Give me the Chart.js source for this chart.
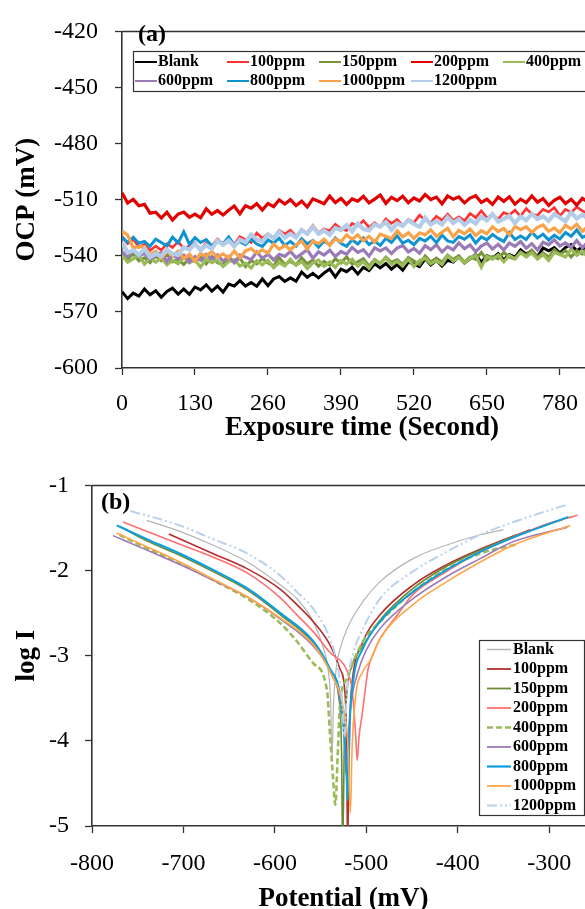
<!DOCTYPE html>
<html><head><meta charset="utf-8">
<script src="https://cdn.jsdelivr.net/npm/chart.js@4.4.1/dist/chart.umd.min.js"></script>
<style>
html,body{margin:0;padding:0;background:#fff;overflow:hidden;}
#wrap{position:relative;width:585px;height:909px;overflow:hidden;background:#fff;}
canvas{position:absolute;left:0;}
</style></head><body>
<div id="wrap">
<canvas id="chartA" width="620" height="455" style="top:0"></canvas>
<canvas id="chartB" width="620" height="480" style="top:455px"></canvas>
</div>
<script>
// ---------- DATA ----------
const seriesNames = ['Blank','100ppm','150ppm','200ppm','400ppm','600ppm','800ppm','1000ppm','1200ppm'];
const ocpTicksX = [0,130,260,390,520,650,780];
const ocpTicksY = [-600,-570,-540,-510,-480,-450,-420];
const tafelTicksX = [-800,-700,-600,-500,-400,-300];
const tafelTicksY = [-5,-4,-3,-2,-1];

const timeS = [0,10,20,30,40,50,60,70,80,90,100,110,120,130,140,150,160,170,180,190,200,210,220,230,240,250,260,270,280,290,300,310,320,330,340,350,360,370,380,390,400,410,420,430,440,450,460,470,480,490,500,510,520,530,540,550,560,570,580,590,600,610,620,630,640,650,660,670,680,690,700,710,720,730,740,750,760,770,780,790,800,810,820,830,840,850];

const ocpBlank = [-559.2,-562.9,-560.0,-561.6,-557.8,-560.8,-558.7,-562.2,-559.1,-557.3,
-560.5,-557.8,-560.6,-556.7,-558.2,-555.5,-558.9,-556.2,-559.4,-555.1,
-556.2,-553.3,-556.2,-554.3,-556.3,-552.4,-556.0,-552.4,-551.1,-553.7,
-551.8,-553.6,-548.7,-551.5,-549.4,-551.8,-549.2,-547.1,-551.3,-547.1,
-548.5,-546.2,-549.7,-546.2,-547.9,-544.3,-546.5,-544.1,-547.2,-544.7,
-547.7,-543.4,-544.5,-545.8,-541.6,-544.9,-542.5,-545.5,-542.4,-543.4,
-540.6,-543.9,-541.6,-539.2,-543.5,-539.9,-541.5,-538.8,-542.1,-539.3,
-540.7,-536.8,-539.1,-537.3,-540.5,-535.8,-537.3,-535.6,-538.5,-535.5,
-534.0,-537.3,-535.4,-537.8,-533.7,-535.7];
const ocp100 = [-529.5,-533.5,-531.2,-535.4,-533.9,-537.2,-534.8,-536.9,-533.5,-535.6,
-532.3,-536.2,-534.7,-533.0,-536.8,-533.1,-534.8,-531.1,-533.5,-531.8,
-533.9,-529.8,-531.3,-532.9,-527.8,-530.6,-528.3,-530.3,-526.3,-528.4,
-526.3,-529.5,-526.5,-527.6,-523.7,-527.7,-525.6,-526.7,-523.2,-525.6,
-526.5,-522.7,-524.1,-521.2,-524.8,-522.3,-524.5,-520.3,-522.7,-520.6,
-523.9,-520.5,-522.2,-518.3,-521.0,-522.4,-518.8,-521.0,-517.7,-521.1,
-519.1,-521.3,-517.4,-519.6,-515.9,-519.7,-518.1,-520.4,-516.9,-518.2,
-515.6,-518.9,-514.7,-517.7,-518.4,-515.2,-516.6,-514.2,-518.6,-515.2,
-516.8,-513.9,-516.0,-517.5,-512.8,-516.5];
const ocp150 = [-539.2,-541.8,-538.9,-542.7,-541.1,-543.7,-540.1,-542.6,-539.2,-543.3,
-542.0,-544.6,-541.4,-543.0,-540.7,-544.3,-540.4,-543.7,-544.7,-541.8,
-543.4,-541.2,-545.8,-542.6,-544.3,-541.5,-543.8,-545.5,-540.9,-544.7,
-542.9,-544.9,-541.1,-544.3,-542.2,-545.5,-543.0,-545.1,-541.6,-543.8,
-540.5,-544.5,-543.2,-541.6,-545.6,-542.0,-544.1,-540.7,-543.5,-542.1,
-544.6,-540.9,-542.8,-544.8,-540.1,-543.3,-541.2,-543.4,-539.6,-541.9,
-540.0,-543.4,-540.6,-541.9,-538.2,-542.4,-540.4,-541.6,-538.2,-540.7,
-541.7,-538.1,-539.7,-537.0,-540.8,-538.5,-540.8,-536.7,-539.2,-537.2,
-540.6,-537.3,-539.1,-535.3,-538.1,-539.6];
const ocp200 = [-506.3,-511.8,-509.8,-513.2,-512.5,-517.2,-516.7,-519.8,-516.7,-520.9,
-517.7,-516.6,-519.4,-517.7,-519.7,-514.9,-517.8,-515.8,-518.2,-515.6,
-513.4,-517.5,-513.2,-514.5,-512.1,-515.5,-512.0,-513.7,-510.1,-512.3,
-510.0,-513.2,-510.8,-513.9,-509.6,-510.8,-512.2,-508.1,-511.5,-509.3,
-512.5,-509.6,-510.8,-508.2,-511.7,-509.7,-507.5,-512.0,-508.7,-510.5,
-508.1,-511.6,-509.1,-510.7,-507.2,-509.9,-508.6,-512.2,-508.0,-509.8,
-508.5,-511.7,-509.1,-507.9,-511.5,-509.8,-512.5,-508.6,-510.9,-508.4,
-512.4,-509.7,-511.6,-508.0,-511.3,-509.4,-513.1,-510.3,-508.7,-512.1,
-509.8,-512.9,-509.3,-511.2,-508.8,-512.5];
const ocp400 = [-539.6,-543.4,-541.6,-539.7,-544.5,-541.4,-543.4,-541.1,-544.8,-542.4,
-544.2,-540.8,-543.6,-542.3,-546.0,-541.8,-543.7,-542.4,-545.7,-543.1,
-542.0,-545.5,-543.9,-546.5,-542.6,-544.8,-542.4,-546.3,-543.6,-545.4,
-541.8,-545.0,-543.1,-546.8,-543.8,-542.2,-545.6,-543.2,-546.2,-542.6,
-544.4,-541.9,-545.6,-543.1,-546.6,-542.5,-543.9,-541.3,-544.6,-543.0,
-545.4,-541.8,-545.7,-542.4,-541.4,-544.3,-542.6,-544.6,-539.9,-542.9,
-541.0,-543.7,-541.4,-539.6,-546.1,-540.2,-541.8,-539.6,-543.2,-539.8,
-541.6,-538.2,-540.6,-538.4,-541.7,-539.4,-542.5,-538.2,-539.3,-540.6,
-536.4,-539.8,-537.6,-540.8,-537.9,-539.1];
const ocp600 = [-537.8,-540.5,-536.5,-540.1,-538.7,-541.8,-539.8,-538.3,-543.1,-539.5,
-541.5,-539.6,-543.5,-540.4,-542.5,-539.3,-541.7,-539.5,-542.8,-540.5,
-543.7,-539.5,-540.7,-542.1,-538.0,-541.4,-539.1,-542.2,-539.2,-540.3,
-537.6,-541.1,-539.0,-536.8,-541.3,-537.9,-539.6,-537.0,-540.4,-537.7,
-539.2,-535.6,-538.2,-536.7,-540.2,-535.8,-537.4,-535.8,-538.8,-535.9,
-534.5,-537.9,-536.1,-538.6,-534.6,-536.7,-534.1,-537.9,-535.1,-536.8,
-533.1,-536.2,-534.2,-537.8,-534.8,-533.1,-536.4,-533.9,-536.9,-533.2,
-534.9,-532.4,-536.0,-533.5,-536.9,-532.8,-534.1,-531.5,-534.7,-533.1,
-535.4,-531.8,-535.7,-532.4,-531.4,-534.3];
const ocp800 = [-530.1,-532.8,-530.1,-533.3,-532.3,-534.9,-531.1,-532.9,-534.8,-530.0,
-533.1,-527.1,-533.8,-530.3,-532.9,-531.3,-534.8,-532.1,-533.5,-529.9,
-534.2,-532.5,-534.0,-530.9,-533.7,-535.0,-531.5,-533.2,-530.6,-534.5,
-532.3,-534.8,-530.9,-533.6,-531.8,-535.4,-532.2,-534.1,-530.4,-533.3,
-534.9,-531.4,-533.7,-530.5,-534.0,-532.1,-534.4,-530.6,-532.9,-529.3,
-533.2,-531.7,-534.1,-530.7,-532.1,-529.6,-533.0,-528.9,-532.0,-532.8,
-529.7,-531.1,-528.8,-533.2,-529.9,-531.5,-528.6,-530.7,-532.3,-527.6,
-531.3,-529.4,-531.3,-527.4,-530.5,-528.4,-531.6,-529.0,-531.0,-527.5,
-529.6,-526.2,-530.2,-528.8,-527.2,-531.1];
const ocp1000 = [-526.8,-528.9,-535.6,-535.2,-535.1,-539.5,-537.6,-541.2,-537.8,-539.8,
-537.5,-541.4,-539.1,-542.8,-538.8,-540.2,-537.7,-540.8,-539.0,-541.2,
-537.4,-541.0,-537.4,-536.1,-538.7,-536.8,-538.6,-533.7,-536.5,-534.4,
-536.8,-534.2,-532.1,-536.3,-532.1,-533.5,-531.1,-534.5,-530.9,-532.5,
-528.8,-531.1,-528.8,-532.0,-529.6,-532.7,-528.4,-529.5,-530.8,-526.6,
-529.9,-527.6,-530.7,-527.7,-528.8,-526.1,-529.6,-527.5,-525.3,-529.8,
-526.4,-528.2,-525.7,-529.2,-526.6,-528.2,-524.5,-527.0,-525.4,-528.8,
-524.3,-526.0,-524.5,-527.6,-524.8,-523.5,-526.9,-525.1,-527.6,-523.6,
-525.7,-523.1,-526.9,-524.1,-525.8,-522.1];
const ocp1200 = [-532.8,-538.3,-537.1,-539.5,-536.3,-540.7,-538.9,-540.2,-536.7,-538.9,
-539.5,-535.5,-536.7,-533.6,-537.0,-534.3,-536.3,-531.9,-534.1,-531.8,
-534.9,-531.3,-532.8,-528.7,-531.2,-532.4,-528.6,-530.6,-527.1,-530.3,
-528.1,-530.2,-526.2,-528.3,-524.5,-528.2,-526.5,-528.7,-525.1,-526.3,
-523.6,-526.9,-522.7,-525.7,-526.4,-523.2,-524.4,-521.9,-526.1,-522.6,
-524.0,-521.0,-523.0,-524.5,-519.7,-523.3,-521.4,-523.3,-519.4,-522.5,
-520.4,-523.5,-520.8,-522.7,-519.1,-521.1,-517.7,-521.7,-520.3,-518.7,
-522.6,-519.0,-521.0,-517.6,-520.3,-518.9,-521.3,-517.6,-519.5,-521.5,
-516.8,-520.0,-518.0,-520.3,-516.6,-519.0];

// Tafel: potential (mV) and log I
const blankE = [-740,-704,-668,-630,-594,-576,-558,-547,-542,-539,-537.5,-536,-533,-529,-521,-503.5,-485,-449,-412,-375.5,-350];
const blankLogI = [-1.41,-1.54,-1.70,-1.90,-2.17,-2.33,-2.60,-2.91,-3.15,-3.55,-4.21,-3.60,-3.15,-2.93,-2.68,-2.36,-2.13,-1.86,-1.70,-1.58,-1.52];
const ppm100E = [-716,-668,-630,-594,-576,-558,-540,-529,-523,-521.5,-520.5,-519,-517.5,-515.5,-503.5,-485,-449,-412,-375.5,-321];
const ppm100LogI = [-1.57,-1.80,-1.98,-2.22,-2.40,-2.60,-2.87,-3.15,-3.50,-4.10,-5.30,-4.10,-3.60,-3.30,-2.83,-2.52,-2.17,-1.93,-1.75,-1.52];
const ppm150E = [-770,-740,-704,-668,-630,-594,-558,-540,-530,-527,-526,-524,-521,-515,-510,-503.5,-485,-449,-412,-375.5,-339,-285];
const ppm150LogI = [-1.48,-1.65,-1.82,-2.01,-2.23,-2.52,-2.85,-3.17,-3.50,-4.20,-5.30,-4.00,-3.40,-3.10,-2.98,-2.88,-2.58,-2.21,-1.95,-1.76,-1.60,-1.40];
const ppm200E = [-766,-704,-668,-630,-594,-576,-558,-540,-521,-515.5,-512,-510,-508,-504.5,-501,-498,-492.5,-485,-466,-449,-412,-375.5,-339,-302,-269];
const ppm200LogI = [-1.43,-1.69,-1.84,-2.03,-2.32,-2.52,-2.72,-2.96,-3.18,-3.41,-3.88,-4.23,-3.95,-3.68,-3.38,-3.15,-2.98,-2.80,-2.52,-2.28,-2.01,-1.78,-1.61,-1.45,-1.35];
const ppm400E = [-770,-740,-704,-668,-630,-594,-576,-558,-543,-540,-536.3,-534,-531,-529,-521,-503.5,-485,-449,-412,-375.5,-335];
const ppm400LogI = [-1.58,-1.74,-1.91,-2.11,-2.33,-2.62,-2.83,-3.09,-3.41,-3.88,-4.46,-4.75,-4.08,-3.61,-3.26,-2.83,-2.60,-2.25,-1.98,-1.80,-1.69];
const ppm600E = [-777,-740,-704,-668,-630,-594,-558,-540,-526.5,-523.5,-522,-518,-510,-499,-485,-449,-412,-375.5,-339,-280];
const ppm600LogI = [-1.59,-1.76,-1.93,-2.11,-2.31,-2.57,-2.89,-3.18,-3.68,-4.10,-4.40,-3.68,-3.22,-2.91,-2.68,-2.33,-2.07,-1.86,-1.66,-1.49];
const ppm800E = [-773,-740,-704,-668,-630,-594,-558,-540,-529,-523,-521.5,-520.5,-518,-514.5,-503.5,-485,-449,-412,-375.5,-339,-279];
const ppm800LogI = [-1.47,-1.63,-1.80,-1.99,-2.21,-2.50,-2.83,-3.15,-3.45,-4.08,-4.45,-4.70,-3.76,-3.30,-2.91,-2.60,-2.25,-1.99,-1.78,-1.61,-1.37];
const ppm1000E = [-773,-740,-704,-668,-630,-594,-558,-540,-525.4,-520,-517.5,-515.6,-512,-503.5,-496,-485,-449,-412,-375.5,-339,-277];
const ppm1000LogI = [-1.56,-1.72,-1.90,-2.10,-2.31,-2.56,-2.87,-3.18,-3.61,-4.08,-4.85,-4.08,-3.50,-3.18,-3.06,-2.80,-2.40,-2.13,-1.90,-1.70,-1.47];
const ppm1200E = [-758,-704,-668,-630,-594,-576,-558,-540,-531,-526.5,-524,-521,-514.5,-503.5,-485,-449,-412,-375.5,-339,-279];
const ppm1200LogI = [-1.30,-1.47,-1.63,-1.80,-2.06,-2.25,-2.45,-2.80,-3.15,-3.53,-3.95,-3.38,-2.98,-2.68,-2.33,-2.01,-1.78,-1.58,-1.43,-1.22];

// ---------- STYLE ----------
const SERIF = "'Liberation Serif', 'Times New Roman', serif";
const AXIS = '#333333';
const ocpColors = ['#000000','#ff3030','#77933c','#e00000','#9bbb59','#9b7bb6','#0f93d0','#f9a24a','#b3cde8'];
const ocpWidths = [3.0,2.6,3.0,3.2,3.2,3.2,3.0,3.2,4.2];
const tafelColors = ['#b5b5b5','#b52d2d','#6a8a35','#ff7070','#9bbb59','#9e7ab8','#0aa0e0','#ffa646','#b9d1ea'];
const tafelWidths = [1.2,1.6,1.6,1.6,2.6,1.6,2.0,1.6,2.0];
const tafelDash = [[],[],[],[],[6,3],[],[],[],[10,3,2,3,2,3]];

const decor = {
  id: 'decor',
  afterDatasetsDraw(chart, args, o) {
    const ctx = chart.ctx, a = chart.chartArea;
    ctx.save();
    ctx.strokeStyle = AXIS; ctx.lineWidth = 1.5;
    ctx.beginPath(); ctx.moveTo(a.left, a.top); ctx.lineTo(a.right, a.top); ctx.lineTo(a.right, a.bottom); ctx.stroke();
    ctx.fillStyle = '#000'; ctx.font = 'bold 24px ' + SERIF; ctx.textBaseline = 'middle'; ctx.textAlign = 'left';
    ctx.fillText(o.panel, o.panelX, o.panelY);
    const L = o.legend;
    ctx.fillStyle = '#fff'; ctx.fillRect(L.x, L.y, L.w, L.h);
    ctx.strokeStyle = '#333'; ctx.lineWidth = 1.2; ctx.strokeRect(L.x + 0.5, L.y + 0.5, L.w, L.h);
    chart.data.datasets.forEach((ds, i) => {
      const col = i % L.cols, row = Math.floor(i / L.cols);
      const x = L.x + L.padX + col * L.colW;
      const y = L.y + L.padY + row * L.rowH;
      ctx.strokeStyle = ds.borderColor; ctx.lineWidth = L.lw[i];
      ctx.setLineDash(ds.borderDash || []);
      ctx.beginPath(); ctx.moveTo(x, y); ctx.lineTo(x + L.sample, y); ctx.stroke();
      ctx.setLineDash([]);
      ctx.fillStyle = '#000'; ctx.font = 'bold 16px ' + SERIF;
      ctx.fillText(ds.label, x + L.sample + L.gap, y);
    });
    ctx.restore();
  }
};

function axisCommon(extra) {
  return Object.assign({
    type: 'linear',
    grid: { display: true, drawOnChartArea: false, drawTicks: true, tickLength: 7, tickColor: AXIS, tickWidth: 1.3 },
    border: { display: true, color: AXIS, width: 1.6 }
  }, extra);
}
const tickFont = { family: SERIF, size: 24 };
const titleFont = { family: SERIF, size: 27, weight: 'bold' };

// ---------- CHART A: OCP ----------
const ocpSeries = [ocpBlank, ocp100, ocp150, ocp200, ocp400, ocp600, ocp800, ocp1000, ocp1200];
new Chart(document.getElementById('chartA'), {
  type: 'scatter',
  data: {
    datasets: ocpSeries.map((vals, k) => ({
      label: seriesNames[k],
      data: timeS.map((t, i) => ({ x: t, y: vals[i] })),
      showLine: true, borderColor: ocpColors[k], borderWidth: ocpWidths[k],
      pointRadius: 0, tension: 0, fill: false, order: -k
    }))
  },
  options: {
    responsive: false, animation: false, devicePixelRatio: 1, events: [],
    layout: { padding: { left: 0, top: 19, right: 18, bottom: 0 } },
    plugins: {
      legend: { display: false }, tooltip: { enabled: false },
      decor: { panel: '(a)', panelX: 138, panelY: 35,
        legend: { x: 133, y: 51, w: 460, h: 40, cols: 5, padX: 2, padY: 11, colW: 92, rowH: 19, sample: 22, gap: 1, lw: [2,2,2,2,2,2,2,2,2] } }
    },
    scales: {
      x: axisCommon({
        min: 0, max: 855,
        ticks: { stepSize: 130, includeBounds: false, autoSkip: false, maxRotation: 0, padding: 14, font: tickFont, color: '#000' },
        title: { display: true, text: 'Exposure time (Second)', font: titleFont, color: '#000', padding: { top: 0, bottom: 11 } },
        afterFit(s) { s.height = 87; }
      }),
      y: axisCommon({
        min: -600, max: -420,
        ticks: { stepSize: 30, autoSkip: false, padding: 17, font: tickFont, color: '#000' },
        title: { display: true, text: 'OCP (mV)', font: titleFont, color: '#000', padding: { top: 11, bottom: 0 } },
        afterFit(s) { s.width = 122; }
      })
    }
  },
  plugins: [decor]
});

// ---------- CHART B: Tafel ----------
const tafelE = [blankE, ppm100E, ppm150E, ppm200E, ppm400E, ppm600E, ppm800E, ppm1000E, ppm1200E];
const tafelL = [blankLogI, ppm100LogI, ppm150LogI, ppm200LogI, ppm400LogI, ppm600LogI, ppm800LogI, ppm1000LogI, ppm1200LogI];
new Chart(document.getElementById('chartB'), {
  type: 'scatter',
  data: {
    datasets: tafelE.map((E, k) => ({
      label: seriesNames[k],
      data: E.map((x, i) => ({ x: x, y: tafelL[k][i] })),
      showLine: true, borderColor: tafelColors[k], borderWidth: tafelWidths[k], borderDash: tafelDash[k],
      pointRadius: 0, cubicInterpolationMode: 'monotone', fill: false, order: -k
    }))
  },
  options: {
    responsive: false, animation: false, devicePixelRatio: 1, events: [],
    layout: { padding: { left: 0, top: 28, right: 25, bottom: 0 } },
    plugins: {
      legend: { display: false }, tooltip: { enabled: false },
      decor: { panel: '(b)', panelX: 101, panelY: 48,
        legend: { x: 479, y: 185, w: 105, h: 175, cols: 1, padX: 8, padY: 9.5, colW: 0, rowH: 19.5, sample: 24, gap: 2, lw: [1.5,1.8,1.8,1.8,2.6,1.8,2.2,1.8,2.2] } }
    },
    scales: {
      x: axisCommon({
        min: -800, max: -250,
        ticks: { stepSize: 100, includeBounds: false, autoSkip: false, maxRotation: 0, padding: 16, font: tickFont, color: '#000' },
        title: { display: true, text: 'Potential (mV)', font: titleFont, color: '#000', padding: { top: 0, bottom: 20 } },
        afterFit(s) { s.height = 109; }
      }),
      y: axisCommon({
        min: -5, max: -1,
        ticks: { stepSize: 1, autoSkip: false, padding: 16, font: tickFont, color: '#000' },
        title: { display: true, text: 'log I', font: titleFont, color: '#000', padding: { top: 11, bottom: 0 } },
        afterFit(s) { s.width = 92; }
      })
    }
  },
  plugins: [decor]
});
</script>
</body></html>
